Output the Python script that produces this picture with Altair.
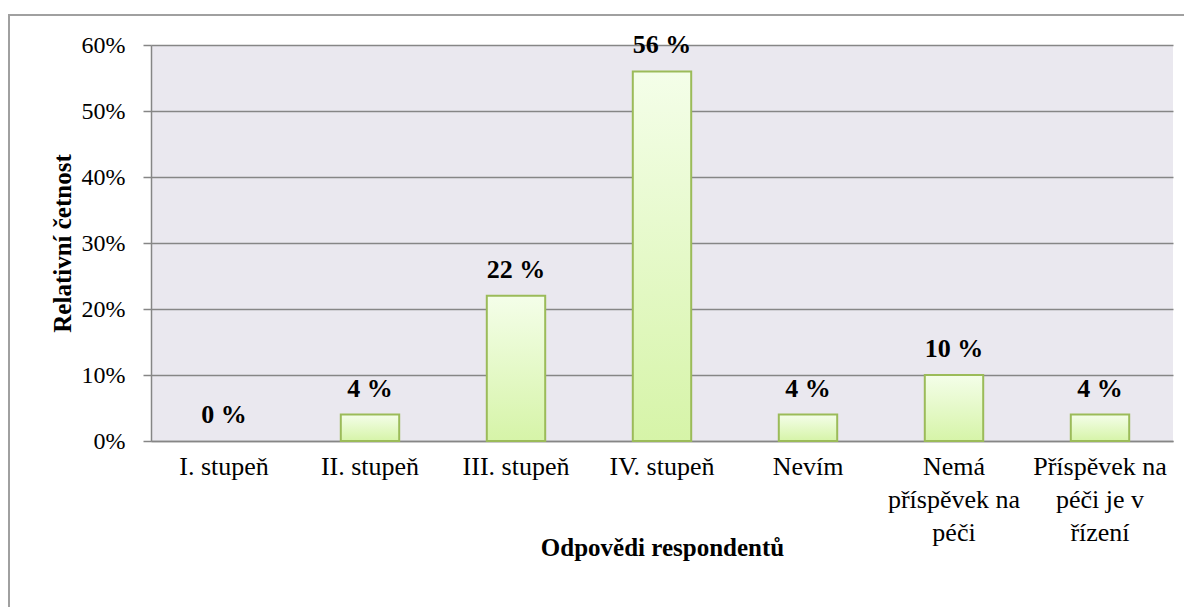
import altair as alt
import pandas as pd

categories = ["I. stupeň", "II. stupeň", "III. stupeň", "IV. stupeň", "Nevím",
              "Nemá|příspěvek na|péči", "Příspěvek na|péči je v|řízení"]
values = [0, 4, 22, 56, 4, 10, 4]
y_ticks = [0, 0.1, 0.2, 0.3, 0.4, 0.5, 0.6]

df = pd.DataFrame({
    "cat": categories,
    "val": [v / 100 for v in values],
    "lab": [f"{v} %" for v in values],
})

FONT = "Liberation Serif"
GRAY = "#868686"

x_enc = alt.X("cat:N", sort=categories,
              scale=alt.Scale(paddingInner=0.6, paddingOuter=0.3),
              axis=alt.Axis(title="Odpovědi respondentů", labelAngle=0,
                            labelExpr="split(datum.label, '|')",
                            labelFont=FONT, labelFontSize=26, labelColor="black",
                            labelLineHeight=33, labelPadding=12, labelLimit=220,
                            ticks=False, domainColor=GRAY, domainWidth=1.5,
                            titleFont=FONT, titleFontSize=25, titleFontWeight="bold",
                            titleColor="black", titleX=511, titleY=106,
                            titleBaseline="middle", titleAlign="center"))
y_scale = alt.Scale(domain=[0, 0.6], nice=False)

bars = alt.Chart(df).mark_bar(
    color=alt.Gradient(gradient="linear",
                       stops=[alt.GradientStop(color="#f4fee9", offset=0),
                              alt.GradientStop(color="#d6f4a8", offset=1)],
                       x1=0, x2=0, y1=0, y2=1),
    stroke="#9bbb59", strokeWidth=2,
).encode(
    x=x_enc,
    y=alt.Y("val:Q", scale=y_scale,
            axis=alt.Axis(title="Relativní četnost", values=y_ticks, format="%",
                          labelFont=FONT, labelFontSize=24, labelColor="black",
                          labelPadding=18, tickSize=8, tickColor=GRAY, tickWidth=1.5,
                          domainColor=GRAY, domainWidth=1.5,
                          grid=True, gridColor=GRAY, gridWidth=1.5,
                          titleFont=FONT, titleFontSize=25, titleFontWeight="bold",
                          titleColor="black", titleX=-89, titleY=198,
                          titleAlign="center", titleBaseline="middle")),
    strokeOpacity=alt.condition("datum.val > 0", alt.value(1), alt.value(0)),
)

texts = alt.Chart(df).mark_text(
    font=FONT, fontSize=26, fontWeight="bold", color="black",
    baseline="alphabetic", dy=-18,
).encode(
    x=alt.X("cat:N", sort=categories),
    y=alt.Y("val:Q", scale=y_scale),
    text="lab:N",
)

frame = alt.Chart(df).mark_rect(
    fill=None, stroke="#a0a0a0", strokeWidth=2,
).encode(
    x=alt.value(-142), x2=alt.value(1060),
    y=alt.value(-30), y2=alt.value(600),
)

chart = alt.layer(bars, texts, frame).properties(
    width=1022, height=396,
    autosize=alt.AutoSizeParams(type="none"),
    padding={"left": 143, "top": 37, "right": 11, "bottom": 166},
).configure(
    font=FONT,
).configure_view(
    fill="#eae8ef", stroke=None,
)

chart.save("out.html", embed_options={"renderer": "svg", "actions": False})
